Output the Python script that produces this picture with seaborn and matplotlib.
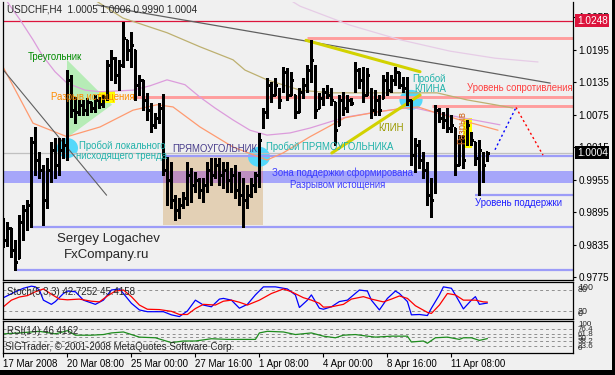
import numpy as np
import pandas as pd
import matplotlib
matplotlib.use("Agg")
import matplotlib.pyplot as plt
import seaborn as sns
from matplotlib.patches import Polygon, Rectangle, Ellipse
import matplotlib.transforms as mtrans

sns.set_theme(style="white")
plt.rcParams['font.family'] = ['Liberation Sans', 'DejaVu Sans']

# ---------------- data (USDCHF H4) ----------------
bar_open = [0.9871,0.9843,0.9866,0.9825,0.9810,0.9877,0.9899,0.9908,1.0024,0.9991,
            0.9973,0.9917,0.9973,1.0010,0.9982,1.0010,1.0019,1.0139,1.0083,1.0080,
            1.0093,1.0083,1.0098,1.0087,1.0102,1.0094,1.0107,1.0166,1.0179,1.0148,
            1.0166,1.0213,1.0194,1.0194,1.0130,1.0139,1.0102,1.0083,1.0056,1.0069,
            1.0087,0.9973,0.9954,0.9917,0.9899,0.9908,0.9921,0.9963,0.9945,0.9954,
            0.9936,0.9945,0.9973,0.9963,0.9982,0.9963,0.9973,0.9954,0.9963,0.9936,
            0.9926,0.9917,0.9926,0.9945,0.9963,1.0056,1.0080,1.0130,1.0111,1.0120,
            1.0120,1.0154,1.0111,1.0111,1.0080,1.0117,1.0130,1.0157,1.0161,1.0087,
            1.0106,1.0117,1.0111,1.0098,1.0056,1.0102,1.0087,1.0102,1.0120,1.0157,
            1.0139,1.0111,1.0120,1.0083,1.0102,1.0106,1.0139,1.0120,1.0139,1.0154,
            1.0130,1.0124,1.0102,1.0000,1.0019,0.9991,0.9973,0.9926,0.9936,1.0083,
            1.0069,1.0065,1.0050,1.0050,0.9982,1.0028,1.0028,1.0037,1.0024,0.9995,
            1.0000,1.0005]
bar_high = [0.9884,0.9877,0.9866,0.9843,0.9890,0.9908,0.9917,1.0034,1.0052,1.0006,
            0.9982,0.9995,1.0024,1.0032,1.0032,1.0032,1.0157,1.0148,1.0107,1.0102,
            1.0102,1.0106,1.0098,1.0111,1.0107,1.0111,1.0176,1.0194,1.0181,1.0176,
            1.0246,1.0213,1.0227,1.0194,1.0148,1.0139,1.0115,1.0096,1.0078,1.0096,
            1.0113,0.9997,0.9987,0.9926,0.9921,0.9932,0.9987,0.9976,0.9969,0.9958,
            0.9958,0.9987,0.9995,0.9995,0.9995,0.9987,0.9987,0.9976,0.9982,0.9969,
            0.9958,0.9945,0.9958,0.9969,1.0041,1.0087,1.0142,1.0135,1.0142,1.0124,
            1.0163,1.0161,1.0154,1.0111,1.0124,1.0142,1.0166,1.0213,1.0166,1.0115,
            1.0124,1.0130,1.0124,1.0098,1.0111,1.0117,1.0111,1.0106,1.0172,1.0161,
            1.0163,1.0161,1.0124,1.0120,1.0111,1.0148,1.0154,1.0148,1.0163,1.0154,
            1.0144,1.0144,1.0102,1.0032,1.0028,1.0006,0.9987,0.9958,1.0093,1.0087,
            1.0080,1.0087,1.0074,1.0050,1.0037,1.0037,1.0065,1.0043,1.0024,1.0028,
            1.0006,1.0006]
bar_low = [0.9830,0.9832,0.9812,0.9788,0.9810,0.9843,0.9862,0.9867,0.9963,0.9958,
           0.9871,0.9902,0.9950,0.9958,0.9963,0.9995,0.9991,1.0070,1.0059,1.0074,
           1.0074,1.0074,1.0080,1.0080,1.0087,1.0089,1.0102,1.0139,1.0133,1.0120,
           1.0163,1.0176,1.0163,1.0102,1.0111,1.0083,1.0065,1.0043,1.0050,1.0059,
           0.9963,0.9908,0.9902,0.9880,0.9884,0.9902,0.9908,0.9913,0.9932,0.9921,
           0.9913,0.9932,0.9945,0.9958,0.9945,0.9939,0.9932,0.9932,0.9921,0.9908,
           0.9867,0.9902,0.9923,0.9932,0.9941,1.0050,1.0069,1.0098,1.0111,1.0087,
           1.0117,1.0102,1.0111,1.0069,1.0080,1.0106,1.0117,1.0135,1.0069,1.0087,
           1.0093,1.0106,1.0093,1.0019,1.0056,1.0074,1.0080,1.0093,1.0117,1.0124,
           1.0098,1.0111,1.0069,1.0074,1.0074,1.0106,1.0111,1.0117,1.0130,1.0124,
           1.0117,1.0093,0.9982,0.9969,0.9976,0.9958,0.9908,0.9886,0.9930,1.0061,
           1.0050,1.0043,1.0043,0.9963,0.9982,0.9976,1.0019,1.0019,0.9982,0.9926,
           0.9950,0.9990]
bar_close = [0.9843,0.9866,0.9825,0.9803,0.9877,0.9899,0.9908,1.0024,0.9991,0.9973,
             0.9917,0.9973,1.0010,0.9982,1.0010,1.0019,1.0139,1.0083,1.0080,1.0093,
             1.0083,1.0098,1.0087,1.0102,1.0094,1.0107,1.0166,1.0179,1.0148,1.0166,
             1.0216,1.0194,1.0203,1.0130,1.0139,1.0102,1.0083,1.0056,1.0069,1.0087,
             0.9973,0.9954,0.9917,0.9899,0.9908,0.9921,0.9963,0.9945,0.9954,0.9936,
             0.9945,0.9973,0.9963,0.9982,0.9963,0.9973,0.9954,0.9963,0.9936,0.9926,
             0.9917,0.9926,0.9945,0.9963,1.0028,1.0080,1.0130,1.0111,1.0130,1.0102,
             1.0154,1.0111,1.0139,1.0080,1.0117,1.0130,1.0157,1.0176,1.0083,1.0106,
             1.0117,1.0111,1.0102,1.0046,1.0102,1.0087,1.0102,1.0096,1.0157,1.0139,
             1.0111,1.0148,1.0083,1.0102,1.0083,1.0139,1.0120,1.0139,1.0154,1.0130,
             1.0124,1.0102,1.0000,1.0019,0.9991,0.9973,0.9926,0.9917,1.0083,1.0069,
             1.0065,1.0050,1.0056,0.9982,1.0028,0.9991,1.0056,1.0028,0.9995,1.0010,
             0.9982,1.0004]

# moving averages (bar index, price) vertices
ma_plum_x = [-0.1,1.15,4.15,7.4,9.65,12.9,15.9,20.4,24.15,32.4,36.65,40.9,45.4,49.15,52.9,57.4,
             61.65,65.9,71.65,76.65,85.4,93.65,100.4,102.9,107.15,114.65,124.15]
ma_plum_y = [1.0296,1.0281,1.0250,1.0213,1.0185,1.0154,1.0133,1.0120,1.0117,1.0120,1.0128,1.0139,
             1.0130,1.0107,1.0087,1.0065,1.0046,1.0037,1.0041,1.0050,1.0070,1.0080,1.0087,1.0087,
             1.0080,1.0069,1.0056]
ma_long_x = [70.4,74.15,86.65,99.15,111.65,122.9,133.65]
ma_long_y = [1.0292,1.0275,1.0240,1.0213,1.0192,1.0179,1.0172]
ma_khaki_x = [22.9,29.9,40.9,49.15,57.4,60.4,65.9,74.15,81.65,102.15,108.4,115.9,122.9,127.4]
ma_khaki_y = [1.0286,1.0253,1.0226,1.0200,1.0176,1.0157,1.0139,1.0120,1.0115,1.0115,1.0115,
              1.0102,1.0093,1.0087]
ma_salmon_x = [-0.1,7.4,15.9,24.15,32.4,38.4,42.4,49.15,57.4,65.9,69.9,76.65,85.4,93.65,100.4,
               103.65,107.4,114.15,123.65]
ma_salmon_y = [1.0163,1.0059,1.0034,1.0052,1.0083,1.0093,1.0089,1.0052,1.0015,0.9991,1.0004,
               1.0034,1.0069,1.0080,1.0087,1.0089,1.0080,1.0065,1.0046]

# trend lines (bar index, price)
trend_long_x = [23.4, 136.7]
trend_long_y = [1.0277, 1.0133]
trend_local_x = [0.0, 25.8]
trend_local_y = [1.0157, 0.9926]
wedge_top_x = [75.65, 104.15]
wedge_top_y = [1.0212, 1.0154]
wedge_bot_x = [82.1, 104.15]
wedge_bot_y = [1.0004, 1.0111]
proj_up_x = [122.9, 128.15]
proj_up_y = [1.0010, 1.0088]
proj_down_x = [128.15, 134.9]
proj_down_y = [1.0088, 1.0000]

# horizontal levels
level_top = 1.0248
bid_price = 1.0004
res_levels = [1.0216, 1.0108, 1.0091]
res_starts = [75.9, 32.15, 107.15]
sup_levels = [0.9999, 0.9927, 0.9868, 0.9788]
sup_starts = [39.9, 117.9, 6.9, 2.9]
zone_low, zone_high = 0.9949, 0.9971

# pattern shapes
triangle_x = [15.9, 15.9, 27.15]
triangle_y = [1.0176, 1.0032, 1.0093]
rect_x = [39.9, 64.9]
rect_y = [0.9871, 0.9997]
gap1_x = [23.9, 27.9]
gap1_y = [1.0096, 1.0118]
gap2_x = [114.9, 117.15]
gap2_y = [1.0013, 1.0069]
break_x = [16.0, 63.9, 101.9]
break_y = [1.0013, 0.9997, 1.0102]

# stochastic (5,3,3)
stoch_k_x = [0,3,5,7,8,9,10,12,13,15,16,18,20,23,25,27,29,30,32,34,36,38,40,42,44,46,48,50,52,54,
             55,57,59,61,63,65,68,71,73,74,76,77,78,79,80,82,84,86,89,91,92,94,96,98,99,101,102,
             104,106,107,109,110,112,113,115,117,118,119,121]
stoch_k = [58,75,85,91,89,80,51,39,47,70,77,75,51,39,51,80,83,70,42,23,18,18,18,9,4,20,51,37,32,54,
           56,51,28,39,66,89,89,83,66,30,51,66,47,28,25,32,47,51,80,77,51,23,56,77,70,47,9,
           10,7,28,66,89,85,66,26,51,61,39,42.7]
stoch_d_x = [0,2,4,6,8,10,12,14,16,19,22,24,26,28,30,32,34,36,39,42,44,46,48,50,53,55,57,59,61,64,
             67,70,72,75,77,79,80,82,85,87,90,92,95,97,99,101,103,106,107,109,111,113,115,118,120,121]
stoch_d = [32,51,60,64,75,83,68,54,52,54,48,46,63,77,80,61,37,25,24,19,10,10,27,39,37,48,51,45,37,51,
           70,83,75,58,51,42,31,32,39,54,61,54,46,54,63,56,35,16,13,37,70,66,51,51,46,45.4]

# RSI(14)
rsi_x = [0,4,9,13,16,18,22,25,27,30,32,34,38,42,45,48,52,56,60,63,64,66,70,73,77,80,83,85,88,91,
         93,97,101,102,105,106,108,111,114,115,117,119,121]
rsi = [61.5,64.6,69.8,61.5,71.9,57.3,57.3,59.4,64.6,67.7,59.4,51.1,49.0,33.4,38.6,38.6,45.9,43.8,
       43.8,43.8,64.6,69.8,67.7,59.4,64.6,54.2,49.0,57.3,59.4,54.2,51.1,54.2,54.2,35.4,38.6,31.3,
       49.0,51.1,43.8,49.0,49.0,40.6,46.4]
rsi_levels = [76.4, 61.8, 50.0, 38.2, 23.6]

time_tick_bars = [0, 16, 32, 48, 64, 80, 96, 112]
time_tick_labels = ["17 Mar 2008", "20 Mar 08:00", "25 Mar 00:00", "27 Mar 16:00",
                    "1 Apr 08:00", "4 Apr 00:00", "8 Apr 16:00", "11 Apr 08:00"]
price_ticks = [0.9775, 0.9835, 0.9895, 0.9955, 1.0015, 1.0075, 1.0135, 1.0195, 1.0255]

# ---------------- layout ----------------
W, H = 615, 375
BG = "#f0f0f0"
fig = plt.figure(figsize=(W/100, H/100), dpi=100, facecolor=BG)

def box(x0, y0, x1, y1):
    return [x0/W, 1-y1/H, (x1-x0)/W, (y1-y0)/H]

def ftext(x, y, s, **kw):
    kw.setdefault('fontsize', 6.9)
    kw.setdefault('va', 'center')
    kw.setdefault('ha', 'left')
    fig.text(x/W, 1-y/H, s, **kw)

XL = (-0.1, 142.4)
ax = fig.add_axes(box(3, 2, 573, 280))
ax2 = fig.add_axes(box(3, 282, 573, 319))
ax3 = fig.add_axes(box(3, 321, 573, 353))
for a in (ax, ax2, ax3):
    a.set_facecolor(BG)
    a.set_xlim(*XL)
    for s in a.spines.values():
        s.set_color('black'); s.set_linewidth(0.9)
ax.spines['top'].set_visible(False)
ax.set_ylim(0.97695, 1.02827)
ax2.set_ylim(-2.9, 102.9)
ax3.set_ylim(0, 103)

# background shapes
ax.add_patch(Rectangle((rect_x[0], rect_y[0]), rect_x[1]-rect_x[0], rect_y[1]-rect_y[0],
                       facecolor="#e3d0b5", edgecolor='none', zorder=1))
ax.axhspan(zone_low, zone_high, facecolor="#a6a6fa", edgecolor='none', zorder=1.1)
ax.add_patch(Rectangle((rect_x[0], zone_low), rect_x[1]-rect_x[0], zone_high-zone_low,
                       facecolor="#bd8fc0", edgecolor='none', zorder=1.2))
ax.add_patch(Polygon(list(zip(triangle_x, triangle_y)), closed=True,
                     facecolor="#b6ecb6", edgecolor='none', zorder=1))
ax.add_patch(Rectangle((gap1_x[0], gap1_y[0]), gap1_x[1]-gap1_x[0], gap1_y[1]-gap1_y[0],
                       facecolor="#ffff00", edgecolor='none', zorder=1.3))
ax.add_patch(Rectangle((gap2_x[0], gap2_y[0]), gap2_x[1]-gap2_x[0], gap2_y[1]-gap2_y[0],
                       facecolor="#ffff00", edgecolor='none', zorder=1.3))
for bx, by, w in zip(break_x, break_y, [5.3, 5.5, 5.8]):
    ax.add_patch(Ellipse((bx, by), w, 20*0.0001846, facecolor="#55d8fa",
                         edgecolor='none', zorder=1.4))

# horizontal levels
ax.axhline(level_top, color="#dc143c", lw=0.9, zorder=2)
ax.axhline(bid_price, color="#c0c0c0", lw=0.9, zorder=2)
for lv, st in zip(res_levels, res_starts):
    ax.hlines(lv, st, XL[1], color="#ff9d9d", lw=2.1, zorder=2)
for lv, st in zip(sup_levels, sup_starts):
    ax.hlines(lv, st, XL[1], color="#9c9cf8", lw=1.6, zorder=2)

# moving averages & trend lines
def line(a, xs, ys, color, lw, **kw):
    d = pd.DataFrame({'x': xs, 'y': ys})
    sns.lineplot(data=d, x='x', y='y', ax=a, color=color, lw=lw, sort=False,
                 estimator=None, legend=False, **kw)

line(ax, ma_long_x, ma_long_y, "#e6cce6", 0.9, zorder=2.5)
line(ax, ma_plum_x, ma_plum_y, "#dc9cdc", 0.9, zorder=2.5)
line(ax, ma_khaki_x, ma_khaki_y, "#bdb070", 0.9, zorder=2.5)
line(ax, ma_salmon_x, ma_salmon_y, "#ff9a70", 0.9, zorder=2.5)
line(ax, trend_long_x, trend_long_y, "#606060", 0.9, zorder=2.5)
line(ax, trend_local_x, trend_local_y, "#606060", 0.8, zorder=2.5)
line(ax, wedge_top_x, wedge_top_y, "#d2d200", 2.2, zorder=2.6)
line(ax, wedge_bot_x, wedge_bot_y, "#d2d200", 2.2, zorder=2.6)
line(ax, proj_up_x, proj_up_y, "#0000ff", 1.0, zorder=2.6, linestyle=(0, (1.5, 2)))
line(ax, proj_down_x, proj_down_y, "#ff0000", 1.0, zorder=2.6, linestyle=(0, (1.5, 2)))

# OHLC bars
idx = np.arange(len(bar_open))
ax.vlines(idx, bar_low, bar_high, color='black', lw=0.75, zorder=3, antialiased=False)
ax.hlines(bar_open, idx-0.4, idx, color='black', lw=0.75, zorder=3, antialiased=False)
ax.hlines(bar_close, idx, idx+0.4, color='black', lw=0.75, zorder=3, antialiased=False)

ax.set_xlabel(''); ax.set_ylabel('')
ax.set_xticks([])
ax.yaxis.tick_right()
ax.set_yticks(price_ticks)
ax.set_yticklabels([f"{p:.4f}" for p in price_ticks])
ax.tick_params(axis='y', direction='out', length=2.5, width=0.8, pad=1.5,
               labelsize=7.2, colors='black', right=True, left=False)

# price boxes
trans = mtrans.blended_transform_factory(ax.transAxes, ax.transData)
ax.text(1.007, level_top, f"{level_top:.4f}", transform=trans, color='white', fontsize=7.2,
        va='center', ha='left', zorder=10, clip_on=False,
        bbox=dict(boxstyle='square,pad=0.15', facecolor="#dc143c", edgecolor='none'))
ax.text(1.007, bid_price, f"{bid_price:.4f}", transform=trans, color='white', fontsize=7.2,
        va='center', ha='left', zorder=10, clip_on=False,
        bbox=dict(boxstyle='square,pad=0.15', facecolor="black", edgecolor='none'))

# stochastic panel
for lv in (80, 20):
    ax2.axhline(lv, color="#909090", lw=0.7, linestyle=(0, (3, 3)))
line(ax2, stoch_k_x, stoch_k, "#0000ff", 0.9)
line(ax2, stoch_d_x, stoch_d, "#ff0000", 0.9)
ax2.set_xlabel(''); ax2.set_ylabel('')
ax2.set_xticks([]); ax2.set_yticks([])

# RSI panel
for lv in rsi_levels:
    ax3.axhline(lv, color="#909090", lw=0.7, linestyle=(0, (3, 3)))
line(ax3, rsi_x, rsi, "#1e8c1e", 0.9)
ax3.set_xlabel(''); ax3.set_ylabel('')
ax3.set_yticks([])
ax3.set_xticks(time_tick_bars)
ax3.set_xticklabels(time_tick_labels)
ax3.tick_params(axis='x', direction='out', length=3, width=0.8, pad=1.5,
                labelsize=7, colors='black', bottom=True)
for lbl in ax3.get_xticklabels():
    lbl.set_ha('left')

# subpanel right labels (stacked as in the terminal)
ftext(578, 287, "100", fontsize=6.4); ftext(578, 290, "80", fontsize=6.4)
ftext(578, 311, "20", fontsize=6.4); ftext(578, 314, "0", fontsize=6.4)
for y, s in [(325, "100"), (329.5, "76.4"), (334.2, "61.8"), (338, "50"),
             (341.8, "38.2"), (346.4, "23.6"), (349, "0")]:
    ftext(578, y, s, fontsize=5.8)

# texts
ftext(7, 10, "USDCHF,H4  1.0005 1.0006 0.9990 1.0004", fontsize=7.1)
ftext(28, 57, "Треугольник", color="#008c00")
ftext(51, 97, "Разрыв истощения", color="#ff8c00")
ftext(79, 146, "Пробой локального", color="#20b2aa")
ftext(76, 156, "нисходящего тренда", color="#20b2aa")
ftext(172, 149, "ПРЯМОУГОЛЬНИК", color="#483d8b")
ftext(266, 147, "Пробой ПРЯМОУГОЛЬНИКА", color="#20b2aa")
ftext(272, 173, "Зона поддержки сформирована", color="#3c3cff")
ftext(290, 185, "Разрывом истощения", color="#3c3cff")
ftext(378, 128, "КЛИН", color="#9a9a00")
ftext(412, 79, "Пробой", color="#20b2aa")
ftext(414, 89, "КЛИНА", color="#20b2aa")
ftext(467, 88, "Уровень сопротивления", color="#ff4040")
ftext(462, 128, "Разрыв", color="#d2691e", rotation=90, ha='center')
ftext(475, 203, "Уровень поддержки", color="#2020ff")
ftext(57, 239, "Sergey Logachev", fontsize=9.5)
ftext(64, 255, "FxCompany.ru", fontsize=9.5)
ftext(7, 292, "Stoch(5,3,3) 42.7252 45.4158", fontsize=7)
ftext(7, 331, "RSI(14) 46.4162", fontsize=7)
ftext(5, 347, "SIGTrader, © 2001-2008 MetaQuotes Software Corp.", fontsize=7)

# window frame
fig.patches.append(Rectangle((0, 0), 1, 5/H, transform=fig.transFigure,
                             facecolor='black', edgecolor='none', zorder=0))
fig.patches.append(Rectangle((1-3/W, 0), 3/W, 1, transform=fig.transFigure,
                             facecolor='black', edgecolor='none', zorder=0))

fig.savefig("out.png", dpi=100, facecolor=BG)
